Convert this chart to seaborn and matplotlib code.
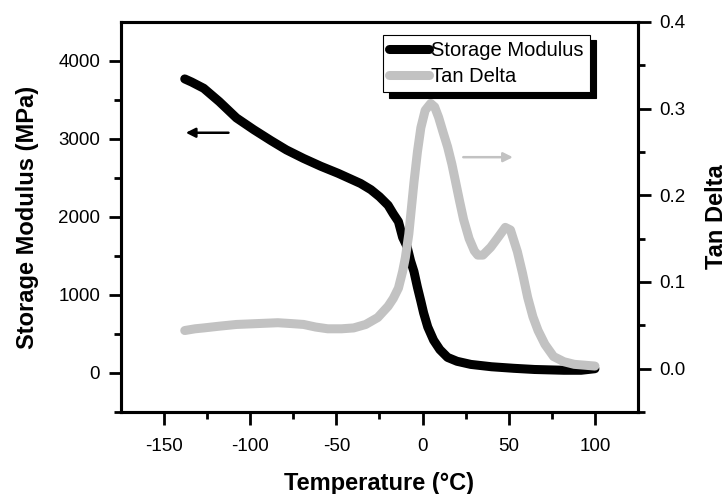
import pandas as pd
import matplotlib.pyplot as plt
import seaborn as sns

# storage modulus (MPa) vs temperature
temp_sm = [-138, -134, -127, -118, -108, -98, -88, -79, -69, -59, -49, -42, -36, -30, -25,
           -20, -17, -14, -11.6, -9, -7, -5, -3, -1, 0.6, 3, 6.4, 10, 14.5, 20, 28, 40, 53, 65,
           82, 92, 100]
modulus = [3770, 3730, 3650, 3480, 3270, 3120, 2980, 2860, 2750, 2650, 2560, 2490, 2430,
           2350, 2260, 2150, 2040, 1940, 1740, 1620, 1440, 1300, 1100, 920, 770, 590, 420,
           300, 200, 150, 110, 80, 60, 45, 35, 35, 55]

# tan delta vs temperature
temp_td = [-138, -132, -127, -118, -108, -96, -84, -76, -69, -62, -55, -47, -40, -33, -26,
           -20, -17, -14, -11.6, -10, -8, -6.5, -5, -3, -1, 1.5, 4.7, 7, 9.3, 12, 14.5, 17,
           19, 21.5, 23.8, 27, 30, 32, 35, 39.5, 44, 48, 51, 55, 58, 61, 64, 67, 71, 76, 82,
           88, 94, 100]
tan_delta = [0.044, 0.046, 0.047, 0.049, 0.051, 0.052, 0.053, 0.052, 0.051, 0.048, 0.046,
             0.046, 0.047, 0.051, 0.059, 0.072, 0.081, 0.093, 0.112, 0.128, 0.155, 0.185,
             0.215, 0.250, 0.278, 0.298, 0.306, 0.302, 0.290, 0.272, 0.256, 0.236, 0.217,
             0.193, 0.172, 0.150, 0.136, 0.131, 0.131, 0.140, 0.152, 0.163, 0.160, 0.135,
             0.110, 0.082, 0.060, 0.044, 0.028, 0.014, 0.008, 0.005, 0.004, 0.003]

df_sm = pd.DataFrame({"Temperature": temp_sm, "Modulus": modulus})
df_td = pd.DataFrame({"Temperature": temp_td, "TanDelta": tan_delta})

sns.set_style("ticks")
plt.rcParams["font.family"] = ["Liberation Sans", "DejaVu Sans"]
plt.rcParams["axes.unicode_minus"] = False
for key in ["text.color", "axes.labelcolor", "xtick.color", "ytick.color"]:
    plt.rcParams[key] = "black"

fig = plt.figure(figsize=(7.27, 4.94), dpi=100)
ax = fig.add_axes([0.1664, 0.166, 0.7112, 0.7895])
ax2 = ax.twinx()

grey = "#c2c2c2"
sns.lineplot(data=df_sm, x="Temperature", y="Modulus", ax=ax, color="black",
             lw=6.5, solid_capstyle="round", label="Storage Modulus", legend=False)
sns.lineplot(data=df_td, x="Temperature", y="TanDelta", ax=ax2, color=grey,
             lw=6.5, solid_capstyle="round", label="Tan Delta", legend=False)

ax.set_xlim(-175, 125)
ax.set_ylim(-500, 4500)
ax2.set_ylim(-0.05, 0.4)
ax.set_xticks([-150, -100, -50, 0, 50, 100])
ax.set_xticks([-125, -75, -25, 25, 75], minor=True)
ax.set_yticks([0, 1000, 2000, 3000, 4000])
ax.set_yticks([-500, 500, 1500, 2500, 3500], minor=True)
ax2.set_yticks([0.0, 0.1, 0.2, 0.3, 0.4])
ax2.set_yticks([-0.05, 0.05, 0.15, 0.25, 0.35], minor=True)
ax2.set_yticklabels(["0.0", "0.1", "0.2", "0.3", "0.4"])

ax.set_xlabel("Temperature (°C)", fontsize=17, fontweight="bold", labelpad=12)
ax.set_ylabel("Storage Modulus (MPa)", fontsize=17, fontweight="bold", labelpad=14)
ax2.set_ylabel("Tan Delta", fontsize=17, fontweight="bold", labelpad=14)

for a in (ax, ax2):
    for s in a.spines.values():
        s.set_linewidth(2.2)
        s.set_color("black")
    a.tick_params(which="major", length=9, width=2, labelsize=13.5, pad=6)
    a.tick_params(which="minor", length=5, width=2)
ax.tick_params(axis="x", top=False, pad=10)

# arrows pointing at the right axis for each curve
ax.annotate("", xy=(-139, 3080), xytext=(-111, 3080),
            arrowprops=dict(arrowstyle="-|>", color="black", lw=1.8, mutation_scale=14))
ax2.annotate("", xy=(54, 0.244), xytext=(22, 0.244),
             arrowprops=dict(arrowstyle="-|>", color=grey, lw=1.8, mutation_scale=14))

h1, l1 = ax.get_legend_handles_labels()
h2, l2 = ax2.get_legend_handles_labels()
leg = ax2.legend(h1 + h2, l1 + l2, loc="upper left", bbox_to_anchor=(0.507, 0.967),
                 borderaxespad=0, fontsize=14.5, handlelength=2.0, handletextpad=0.1,
                 borderpad=0.3, labelspacing=0.35, fancybox=False, framealpha=1,
                 edgecolor="black",
                 shadow={"ox": 4, "oy": -4, "color": "black", "alpha": 1})
leg.get_frame().set_linewidth(0.8)

plt.savefig("out.png", dpi=100)
